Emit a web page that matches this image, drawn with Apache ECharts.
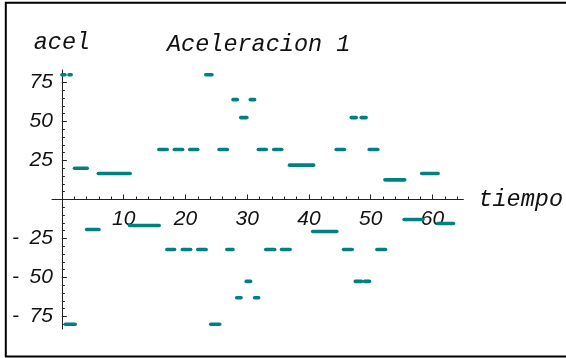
<!DOCTYPE html>
<html>
<head>
<meta charset="utf-8">
<script src="https://cdn.jsdelivr.net/npm/echarts@6/dist/echarts.min.js"></script>
<style>
  html, body { margin: 0; background: #fff; }
  #chart { width: 566px; height: 358px; }
</style>
</head>
<body>
<div id="chart"></div>
<script>
// piecewise-constant acceleration: each segment from tiempoInicio to tiempoFin at aceleracion
const tiempoInicio = [0.0, 1.15, 23.3, 2.05, 5.9, 15.7, 18.2, 20.7, 25.45, 31.8, 34.3, 44.4, 49.75,
  27.7, 30.5, 28.95, 46.85, 48.45, 36.85, 52.3, 58.25,
  4.0, 10.95, 0.55, 17.0, 19.5, 22.0, 26.7, 33.0, 35.55, 45.6, 51.0,
  29.85, 47.5, 49.0, 28.3, 31.2, 24.1, 40.6, 55.4, 60.85];
const tiempoFin = [0.5, 1.5, 24.3, 4.1, 11.05, 17.05, 19.55, 22.0, 26.8, 33.1, 35.6, 45.75, 51.15,
  28.4, 31.2, 29.95, 47.65, 49.25, 40.75, 55.5, 60.9,
  6.0, 15.75, 2.15, 18.25, 20.85, 23.35, 27.7, 34.45, 36.95, 47.0, 52.4,
  30.55, 48.5, 49.8, 29.0, 31.85, 25.55, 44.5, 58.45, 63.4];
const aceleracion = [80, 80, 80, 20, 16.7, 32, 32, 32, 32, 32, 32, 32, 32,
  64, 64, 52.5, 52.5, 52.5, 22, 12.6, 16.7,
  -19.2, -16.7, -80, -32, -32, -32, -32, -32, -32, -32, -32,
  -52.5, -52.5, -52.5, -63, -63, -80, -20.5, -12.8, -15.4];

const xTickLabels = [10, 20, 30, 40, 50, 60];
const xMinorTicks = [2, 4, 6, 8, 10, 12, 14, 16, 18, 20, 22, 24, 26, 28, 30, 32, 34, 36, 38, 40,
  42, 44, 46, 48, 50, 52, 54, 56, 58, 60, 62, 64];
const yTickLabels = [-75, -50, -25, 25, 50, 75];
const yMinorTicks = [-80, -75, -70, -65, -60, -55, -50, -45, -40, -35, -30, -25, -20, -15, -10, -5,
  5, 10, 15, 20, 25, 30, 35, 40, 45, 50, 55, 60, 65, 70, 75, 80];

const teal = '#008080';
const axisColor = '#222';
const monoFont = { fontFamily: 'Liberation Mono', fontStyle: 'italic', fontSize: 23.5, color: '#111' };
const tickFont = { fontFamily: 'Liberation Sans', fontStyle: 'italic', fontSize: 21, color: '#111' };

const segments = tiempoInicio.map((t, i) => [t, tiempoFin[i], aceleracion[i]]);

const xRange = { min: -1.6, max: 65 };
const yRange = { min: -83, max: 83 };
const grid = { left: 52, right: 101, top: 70, bottom: 29 };
// where the zero lines sit, measured from the grid edges, so labels can follow the axes
const gridH = 358 - grid.top - grid.bottom;
const gridW = 566 - grid.left - grid.right;
const xZeroOffset = -gridH * (0 - yRange.min) / (yRange.max - yRange.min);
const yZeroOffset = -gridW * (0 - xRange.min) / (xRange.max - xRange.min);

const hidden = { axisLine: { show: false }, axisTick: { show: false }, axisLabel: { show: false }, splitLine: { show: false } };

const chart = echarts.init(document.getElementById('chart'));
chart.setOption({
  animation: false,
  title: {
    text: 'Aceleracion 1',
    left: 167,
    top: 33,
    padding: 0,
    textStyle: { ...monoFont, fontWeight: 'normal' },
  },
  grid,
  xAxis: [
    {
      type: 'value',
      ...xRange,
      position: 'bottom',
      axisLine: { onZero: true, onZeroAxisIndex: 0, lineStyle: { color: axisColor, width: 1 } },
      axisTick: { inside: true, length: 3, customValues: xMinorTicks, lineStyle: { color: axisColor } },
      axisLabel: { show: false },
      splitLine: { show: false },
      name: 'tiempo',
      nameLocation: 'end',
      nameGap: 15,
      nameTextStyle: monoFont,
    },
    {
      type: 'value',
      ...xRange,
      position: 'bottom',
      ...hidden,
      axisLine: { show: false, onZero: true, onZeroAxisIndex: 0 },
      axisTick: { show: true, inside: true, length: 5, customValues: xTickLabels, lineStyle: { color: axisColor } },
    },
    {
      type: 'value',
      ...xRange,
      position: 'bottom',
      offset: xZeroOffset,
      ...hidden,
      axisLine: { show: false, onZero: false },
      axisLabel: { show: true, customValues: xTickLabels, margin: 9, ...tickFont },
    },
  ],
  yAxis: [
    {
      type: 'value',
      ...yRange,
      position: 'left',
      axisLine: { onZero: true, onZeroAxisIndex: 0, lineStyle: { color: axisColor, width: 1 } },
      axisTick: { inside: true, length: 3, customValues: yMinorTicks, lineStyle: { color: axisColor } },
      axisLabel: { show: false },
      splitLine: { show: false },
      name: 'acel',
      nameLocation: 'end',
      nameGap: 16,
      nameTextStyle: monoFont,
    },
    {
      type: 'value',
      ...yRange,
      position: 'left',
      ...hidden,
      axisLine: { show: false, onZero: true, onZeroAxisIndex: 0 },
      axisTick: { show: true, inside: true, length: 5, customValues: yTickLabels, lineStyle: { color: axisColor } },
    },
    {
      type: 'value',
      ...yRange,
      position: 'left',
      offset: yZeroOffset,
      ...hidden,
      axisLine: { show: false, onZero: false },
      axisLabel: {
        show: true,
        customValues: yTickLabels,
        margin: 9,
        formatter: (v) => (v < 0 ? '-\u2002' + -v : String(v)),
        ...tickFont,
      },
    },
  ],
  graphic: [
    {
      type: 'rect',
      shape: { x: 5.8, y: 2.7, width: 700, height: 353.8 },
      style: { fill: 'none', stroke: '#000', lineWidth: 2 },
      silent: true,
    },
  ],
  series: [
    {
      type: 'custom',
      data: segments,
      encode: { x: [0, 1], y: 2 },
      renderItem: (params, api) => {
        const a = api.coord([api.value(0), api.value(2)]);
        const b = api.coord([api.value(1), api.value(2)]);
        return {
          type: 'line',
          shape: { x1: a[0], y1: a[1], x2: b[0], y2: b[1] },
          style: { stroke: teal, lineWidth: 3.6, lineCap: 'round' },
        };
      },
    },
  ],
});
</script>
</body>
</html>
